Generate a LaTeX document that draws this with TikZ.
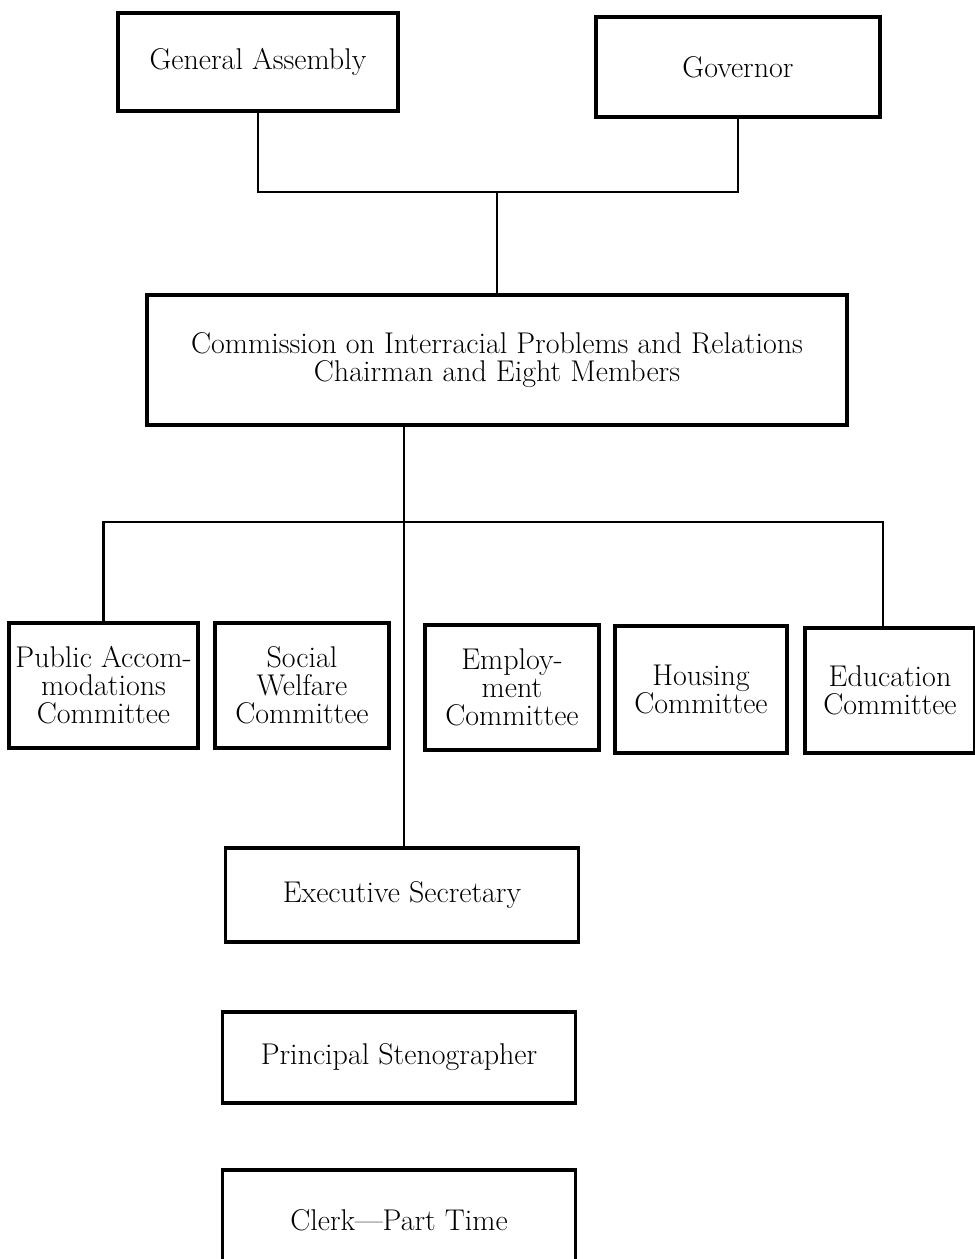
\documentclass[tikz,border=0pt]{standalone}
\begin{document}
\begin{tikzpicture}[x=1pt,y=-1pt,
  box/.style={draw, line width=3.2pt, inner sep=0pt, align=center,
    font=\fontsize{30}{28}\selectfont},
  conn/.style={line width=2.4pt}]
\useasboundingbox (0,0) rectangle (975,1259);
\clip (0,0) rectangle (975,1259);
% top level
\node[box, minimum width=280pt, minimum height=98pt]  (ga)  at (258,62)   {General Assembly};
\node[box, minimum width=284pt, minimum height=100pt] (gov) at (738,67)   {Governor};
\node[box, minimum width=700pt, minimum height=130pt] (com) at (497,360)  {Commission on Interracial Problems and Relations\\Chairman and Eight Members};
% committees
\node[box, minimum width=189pt, minimum height=125pt] (pac) at (103.5,685.5) {Public Accom-\\modations\\Committee};
\node[box, minimum width=174pt, minimum height=125pt] (swc) at (302,685.5)   {Social\\Welfare\\Committee};
\node[box, minimum width=174pt, minimum height=125pt] (emp) at (512,687.5)   {Employ-\\ment\\Committee};
\node[box, minimum width=172pt, minimum height=127pt] (hou) at (701,689.5)   {Housing\\Committee};
\node[box, minimum width=170pt, minimum height=125pt] (edu) at (890,690.5)   {Education\\Committee};
% staff
\node[box, minimum width=353pt, minimum height=94pt]  (exe) at (402,895)    {Executive Secretary};
\node[box, minimum width=353pt, minimum height=91pt]  (pst) at (399,1057.5) {Principal Stenographer};
\node[box, minimum width=353pt, minimum height=100pt] (clk) at (399,1220)   {Clerk---Part Time};
% junctions
\coordinate (j) at (497,192);
\coordinate (k) at (404,522);
\coordinate (r) at (883,522);
% connectors
\draw[conn] (ga.south) |- (j) -| (gov.south);
\draw[conn] (j) -- (com.north);
\draw[conn] (k |- com.south) -- (k |- exe.north);
\draw[conn] (pac.north) |- (r) -- (r |- edu.north);
\end{tikzpicture}
\end{document}
